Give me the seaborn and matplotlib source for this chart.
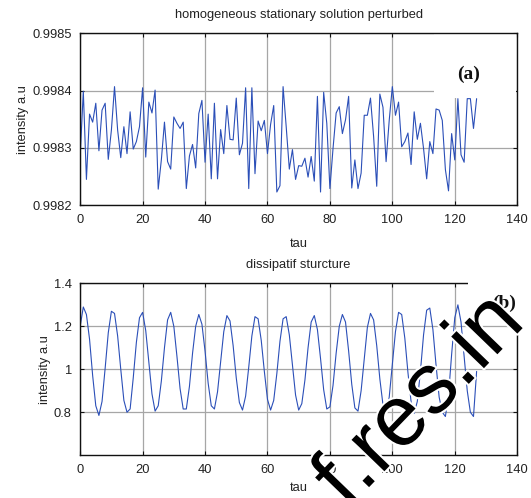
import numpy as np
import pandas as pd
import seaborn as sns
import matplotlib
matplotlib.use("Agg")
import matplotlib.pyplot as plt
import matplotlib.patheffects as pe
from matplotlib.patches import Rectangle

# ---- data -------------------------------------------------------------
tau = list(range(128))

intensity_perturbed = [
    0.998286, 0.998399, 0.998245, 0.998359, 0.998345, 0.998378, 0.998295, 0.998366,
    0.998378, 0.998280, 0.998331, 0.998407, 0.998331, 0.998283, 0.998337, 0.998290,
    0.998363, 0.998298, 0.998311, 0.998337, 0.998405, 0.998284, 0.998380, 0.998361,
    0.998401, 0.998228, 0.998279, 0.998345, 0.998276, 0.998263, 0.998354, 0.998343,
    0.998334, 0.998345, 0.998229, 0.998286, 0.998306, 0.998265, 0.998360, 0.998383,
    0.998275, 0.998359, 0.998246, 0.998378, 0.998246, 0.998332, 0.998290, 0.998374,
    0.998315, 0.998314, 0.998387, 0.998288, 0.998308, 0.998405, 0.998229, 0.998405,
    0.998255, 0.998347, 0.998330, 0.998348, 0.998290, 0.998341, 0.998374, 0.998223,
    0.998234, 0.998407, 0.998337, 0.998263, 0.998297, 0.998245, 0.998269, 0.998268,
    0.998282, 0.998249, 0.998285, 0.998242, 0.998390, 0.998223, 0.998397, 0.998343,
    0.998229, 0.998299, 0.998361, 0.998372, 0.998325, 0.998349, 0.998390, 0.998230,
    0.998279, 0.998229, 0.998256, 0.998357, 0.998357, 0.998387, 0.998320, 0.998233,
    0.998394, 0.998371, 0.998276, 0.998348, 0.998407, 0.998357, 0.998380, 0.998302,
    0.998311, 0.998326, 0.998271, 0.998363, 0.998315, 0.998343, 0.998299, 0.998246,
    0.998311, 0.998290, 0.998368, 0.998366, 0.998348, 0.998262, 0.998225, 0.998325,
    0.998279, 0.998386, 0.998288, 0.998275, 0.998386, 0.998386, 0.998334, 0.998386,
]

intensity_dissipative = [
    1.200, 1.290, 1.255, 1.140, 0.970, 0.830, 0.785, 0.850,
    1.005, 1.170, 1.270, 1.260, 1.155, 1.000, 0.855, 0.800,
    0.815, 0.960, 1.125, 1.240, 1.265, 1.180, 1.030, 0.885,
    0.805, 0.830, 0.945, 1.100, 1.230, 1.265, 1.200, 1.060,
    0.910, 0.815, 0.815, 0.920, 1.075, 1.200, 1.255, 1.210,
    1.085, 0.935, 0.830, 0.815, 0.895, 1.035, 1.175, 1.250,
    1.225, 1.110, 0.960, 0.845, 0.810, 0.875, 1.010, 1.155,
    1.245, 1.235, 1.135, 0.990, 0.860, 0.810, 0.855, 0.980,
    1.130, 1.235, 1.245, 1.160, 1.020, 0.880, 0.810, 0.840,
    0.950, 1.100, 1.220, 1.250, 1.185, 1.050, 0.905, 0.815,
    0.825, 0.925, 1.075, 1.200, 1.255, 1.220, 1.085, 0.930,
    0.820, 0.805, 0.900, 1.050, 1.195, 1.260, 1.230, 1.110,
    0.955, 0.835, 0.795, 0.870, 1.020, 1.175, 1.265, 1.255,
    1.145, 0.985, 0.850, 0.795, 0.850, 0.990, 1.160, 1.275,
    1.285, 1.185, 1.020, 0.870, 0.800, 0.780, 0.880, 1.070,
    1.240, 1.300, 1.220, 1.060, 0.900, 0.800, 0.780, 0.990,
]

x_ticks = [0, 20, 40, 60, 80, 100, 120, 140]
top_yticks = [0.9982, 0.9983, 0.9984, 0.9985]
top_ylabels = ["0.9982", "0.9983", "0.9984", "0.9985"]
bottom_yticks = [0.8, 1.0, 1.2, 1.4]
bottom_ylabels = ["0.8", "1", "1.2", "1.4"]

df = pd.DataFrame({"tau": tau,
                   "perturbed": intensity_perturbed,
                   "dissipative": intensity_dissipative})

# ---- style ------------------------------------------------------------
sns.set_theme(style="white")
plt.rcParams["font.family"] = ["Liberation Sans", "DejaVu Sans"]
LINE = "#2b4fb8"
GRID = "#a6a6a6"
TXT = "#222222"
FS = 9.3

fig = plt.figure(figsize=(5.31, 4.98), dpi=100)
ax1 = fig.add_axes([0.151, 0.588, 0.823, 0.345])
ax2 = fig.add_axes([0.151, 0.086, 0.823, 0.345])


def style_axes(ax, yticks, ylabels, ylim, xlabelpad):
    ax.set_xlim(0, 140)
    ax.set_ylim(*ylim)
    ax.set_xticks(x_ticks)
    ax.set_xticklabels([str(t) for t in x_ticks], fontsize=FS, color=TXT)
    ax.set_yticks(yticks)
    ax.set_yticklabels(ylabels, fontsize=FS, color=TXT)
    ax.grid(True, color=GRID, linewidth=0.9)
    ax.set_axisbelow(True)
    ax.tick_params(direction="in", length=3, width=0.8, top=True, right=True,
                   bottom=True, left=True, colors="#111111", labelcolor=TXT)
    ax.tick_params(axis="x", pad=6)
    ax.tick_params(axis="y", pad=6)
    for s in ax.spines.values():
        s.set_color("#111111")
        s.set_linewidth(1.0)
        s.set_visible(True)
    ax.set_xlabel("tau", fontsize=FS, color=TXT, labelpad=xlabelpad)
    ax.set_ylabel("intensity a.u", fontsize=FS, color=TXT, labelpad=2)


# top panel: perturbed homogeneous stationary solution
sns.lineplot(data=df, x="tau", y="perturbed", ax=ax1, color=LINE,
             linewidth=0.8, zorder=2)
style_axes(ax1, top_yticks, top_ylabels, (0.9982, 0.9985), 9)
ax1.set_title("homogeneous stationary solution perturbed", fontsize=FS,
              color=TXT, pad=11)
ax1.add_patch(Rectangle((0.81, 0.622), 0.188, 0.376, transform=ax1.transAxes,
                        facecolor="white", edgecolor="none", zorder=2.2))
ax1.text(0.888, 0.76, "(a)", transform=ax1.transAxes, fontsize=14,
         fontweight="bold", family=["Liberation Serif", "DejaVu Serif"],
         ha="center", va="center", zorder=2.4, color="#111111")

# bottom panel: dissipative structure
sns.lineplot(data=df, x="tau", y="dissipative", ax=ax2, color=LINE,
             linewidth=0.8, zorder=2)
style_axes(ax2, bottom_yticks, bottom_ylabels, (0.6, 1.4), 5)
ax2.set_title("dissipatif sturcture", fontsize=FS, color=TXT, pad=11)

# label box of the lower panel
fig.patches.append(Rectangle((468 / 531, 1 - 323 / 498), 55 / 531, 50 / 498,
                             transform=fig.transFigure, facecolor="white",
                             edgecolor="none", zorder=3))
fig.text(504 / 531, 1 - 303 / 498, "(b)", fontsize=14, fontweight="bold",
         family=["Liberation Serif", "DejaVu Serif"], ha="center",
         va="center", zorder=4, color="#111111")

# overprinted site mark
wm = fig.text(347 / 531, 1 - 510 / 498, "f.res.in", fontsize=62,
              rotation=46, rotation_mode="anchor", ha="left", va="baseline",
              color="black", zorder=6)
wm.set_path_effects([pe.withStroke(linewidth=3, foreground="white")])

fig.savefig("out.png", dpi=100)
